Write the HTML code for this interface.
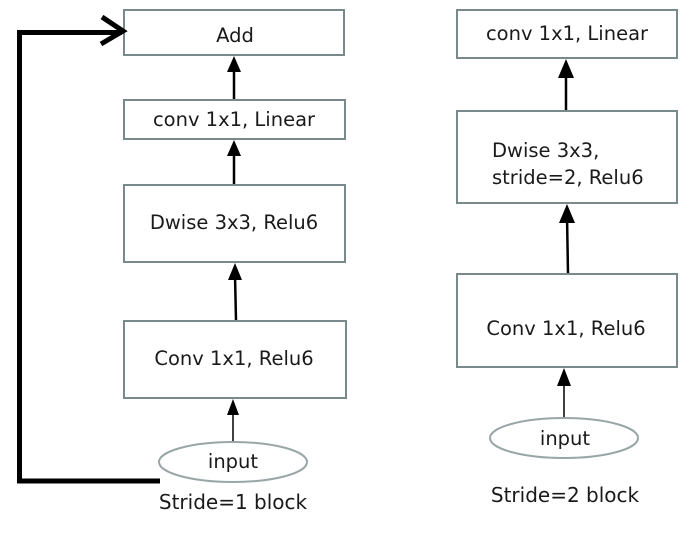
<!DOCTYPE html>
<html><head><meta charset="utf-8"><style>
html,body{margin:0;padding:0;background:#fff;}
svg{display:block;}
text{font-family:"DejaVu Sans","Liberation Sans",sans-serif;fill:#1a1a1a;}
</style></head><body>
<svg width="699" height="540" viewBox="0 0 699 540" xmlns="http://www.w3.org/2000/svg">
<g fill="#fff" stroke="#7a8a8a" stroke-width="2">
<rect x="124" y="10" width="220" height="45"/>
<rect x="124" y="100" width="221" height="39"/>
<rect x="124" y="185" width="221" height="77"/>
<rect x="124" y="321" width="222" height="77"/>
<rect x="457" y="10" width="220" height="48"/>
<rect x="457" y="111" width="220" height="92"/>
<rect x="457" y="274" width="220" height="93"/>
<ellipse cx="233" cy="462" rx="74" ry="20" stroke="#9aa6a6"/>
<ellipse cx="564" cy="438" rx="74" ry="20" stroke="#9aa6a6"/>
</g>
<g stroke="#000" stroke-width="2.5" fill="none">
<line x1="234" y1="99" x2="234" y2="68"/>
<line x1="234" y1="184" x2="234" y2="150"/>
<line x1="236" y1="320" x2="235" y2="275"/>
<line x1="233" y1="441" x2="233" y2="412" stroke-width="1.5"/>
<line x1="566" y1="110" x2="566" y2="72"/>
<line x1="568" y1="273" x2="567" y2="216"/>
<line x1="564" y1="417" x2="564" y2="380" stroke-width="1.5"/>
</g>
<g fill="#000">
<polygon points="234,56 227,72 241,72"/>
<polygon points="234,140 227,156 241,156"/>
<polygon points="235,263 228,280 242,280"/>
<polygon points="233,399 227,415 239,415"/>
<polygon points="566,59 558,78 574,78"/>
<polygon points="567,204 559,223 575,223"/>
<polygon points="564,368 557,386 571,386"/>
</g>
<g stroke="#000" stroke-width="5" fill="none">
<polyline points="160,481 19.5,481 19.5,32.5 122,32.5"/>
<polyline points="102,17 123,31 101,44"/>
</g>
<g font-size="19.5" text-anchor="middle">
<text x="235" y="42">Add</text>
<text x="234" y="126">conv 1x1, Linear</text>
<text x="234" y="229">Dwise 3x3, Relu6</text>
<text x="234" y="365">Conv 1x1, Relu6</text>
<text x="233" y="468">input</text>
<text x="233" y="509" font-size="20">Stride=1 block</text>
<text x="567" y="40">conv 1x1, Linear</text>
<text x="492" y="157" text-anchor="start">Dwise 3x3,</text>
<text x="492" y="184" text-anchor="start">stride=2, Relu6</text>
<text x="566" y="335">Conv 1x1, Relu6</text>
<text x="565" y="445">input</text>
<text x="565" y="502" font-size="20">Stride=2 block</text>
</g>
</svg>
</body></html>
